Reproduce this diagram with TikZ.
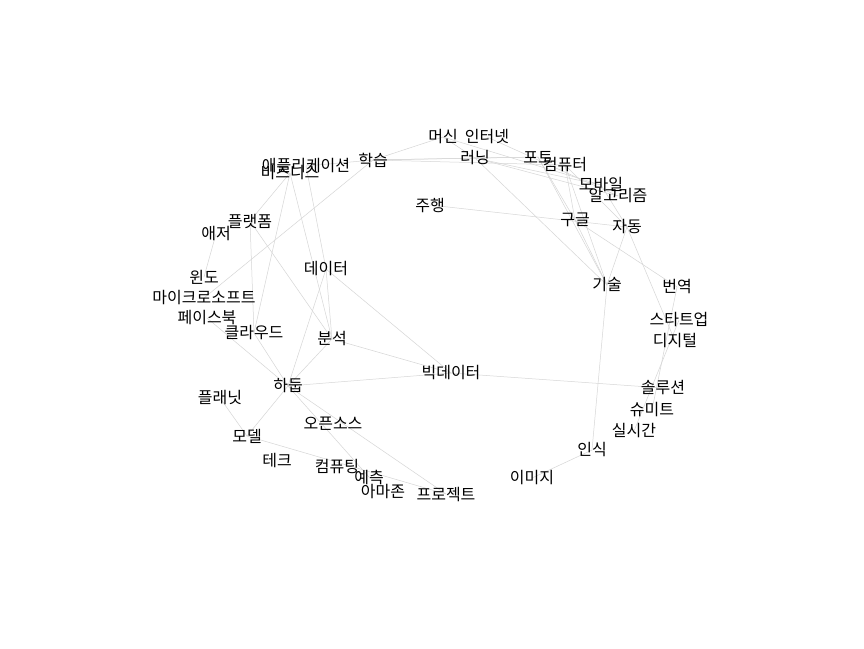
\documentclass[tikz,border=0pt]{standalone}
\usepackage{fontspec}
\newfontfamily\kr{Noto Sans CJK KR}
\tikzset{
  lbl/.style={font=\kr\fontsize{16}{18}\selectfont, inner sep=0pt, text=black},
  edge/.style={draw=black!16, line width=0.5pt}
}
\begin{document}
\begin{tikzpicture}[x=1pt,y=-1pt]
\useasboundingbox (0,0) rectangle (864,648);
\fill[white] (0,0) rectangle (864,648);
% coordinates of nodes
\foreach \n/\x/\y in {
 ma/443/137, it/487/137, hs/373/160, rn/475/158, pt/538/157, cp/565/165,
 ap/306/166, bz/290/173, mb/601/185, al/618/196, jh/430/205, gg/575/220,
 ja/627/227, pf/250/221, az/216/234, dt/326/269, wd/204/277, gs/607/285,
 by/677/287, ms/204/298, fb/207/318, su/679/320, cl/254/333, dg/675/341,
 bs/332/339, bd/451/373, hd/288/386, sl/663/388, pl/220/398, sm/652/410,
 os/333/424, rt/634/431, md/247/436, is/592/450, tk/277/461, cg/337/467,
 yc/369/477, im/532/478, az2/383/491, pj/446/494}
 {\coordinate (\n) at (\x,\y);}
% edges
\foreach \a/\b in {
 hs/ma, hs/rn, hs/pt, hs/cp, hs/ap, hs/ms, ma/rn, ma/mb, it/al,
 rn/pt, rn/al, rn/mb, rn/gs, pt/gs, pt/gg, cp/gg, cp/gs, cp/ja, mb/ja,
 gg/by, gg/gs, jh/ja, ja/gs, ja/dg, by/sm, su/rt, gs/is, is/im, bd/sl,
 ap/dt, bz/bs, bz/cl, bz/pf, pf/cl, pf/bs, az/wd, dt/hd, dt/bs, dt/bd,
 bs/hd, bs/bd, hd/bd, cl/hd, fb/hd, hd/md, hd/yc, hd/pj, pl/md, md/pj}
 {\path[edge] (\a) -- (\b);}
% labels
\foreach \n/\t in {
 ma/머신, it/인터넷, hs/학습, rn/러닝, pt/포토, cp/컴퓨터, ap/애플리케이션,
 bz/비즈니스, mb/모바일, al/알고리즘, jh/주행, gg/구글, ja/자동, pf/플랫폼,
 az/애저, dt/데이터, wd/윈도, gs/기술, by/번역, ms/마이크로소프트, fb/페이스북,
 su/스타트업, cl/클라우드, dg/디지털, bs/분석, bd/빅데이터, hd/하둡, sl/솔루션,
 pl/플래닛, sm/슈미트, os/오픈소스, rt/실시간, md/모델, is/인식, tk/테크,
 cg/컴퓨팅, yc/예측, im/이미지, az2/아마존, pj/프로젝트}
 {\node[lbl] (l\n) at (\n) {\t};}
\end{tikzpicture}
\end{document}
